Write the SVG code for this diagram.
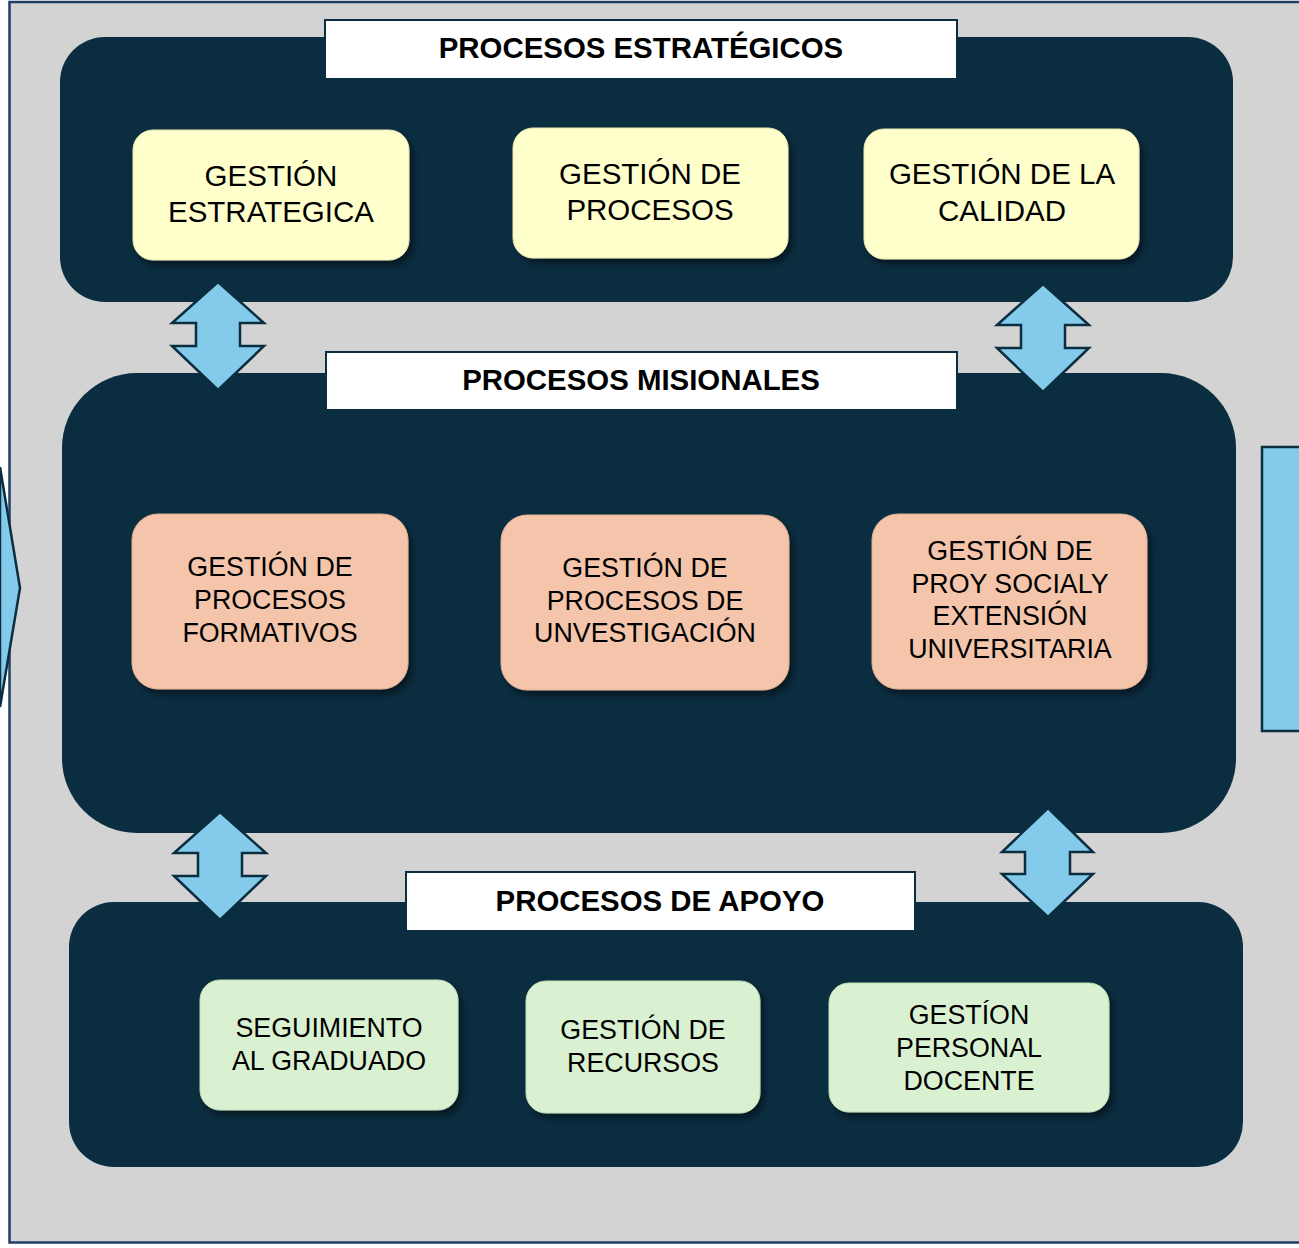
<svg xmlns="http://www.w3.org/2000/svg" width="1299" height="1248" viewBox="0 0 1299 1248">
<defs>
<style>
.panel{fill:#0B2D40;}
.title{fill:#FFFFFF;stroke:#0B2D40;stroke-width:2;}
.tt{font-family:"Liberation Sans",Arial,sans-serif;font-weight:bold;font-size:29.4px;fill:#000;text-anchor:middle;}
.nt{font-family:"Liberation Sans",Arial,sans-serif;font-size:26.8px;fill:#000;text-anchor:middle;}
.nty{font-family:"Liberation Sans",Arial,sans-serif;font-size:29.5px;fill:#000;text-anchor:middle;}
.y{fill:#FFFFCC;stroke:#E8E8B0;stroke-width:1;}
.o{fill:#F4C5AA;stroke:#E0B090;stroke-width:1;}
.g{fill:#D9F1D1;stroke:#C0DDB8;stroke-width:1;}
.arr{fill:#84CBEB;stroke:#0B2D40;stroke-width:2.5;stroke-linejoin:miter;}
</style>
<filter id="sh" x="-10%" y="-10%" width="125%" height="130%">
<feDropShadow dx="4" dy="5" stdDeviation="3" flood-color="#000" flood-opacity="0.45"/>
</filter>
</defs>
<rect x="0" y="0" width="1299" height="1248" fill="#FFFFFF"/>
<rect x="9.5" y="2" width="1300" height="1240.5" fill="#D3D3D3" stroke="#1F3F66" stroke-width="2.5"/>
<path d="M0,467 L20,588 L0,707 Z" fill="#84CBEB" stroke="#0B2D40" stroke-width="2.5"/>
<rect x="1262" y="447" width="50" height="284" fill="#84CBEB" stroke="#0B2D40" stroke-width="2.5"/>

<g id="panel-estrategicos">
<rect class="panel" x="60" y="37" width="1173" height="265" rx="45"/>
<rect class="title" x="325" y="20" width="632" height="59"/>
<text class="tt" x="641" y="58">PROCESOS ESTRATÉGICOS</text>
</g>
<g id="panel-misionales">
<rect class="panel" x="62" y="373" width="1174" height="460" rx="75"/>
<rect class="title" x="326" y="352" width="631" height="58"/>
<text class="tt" x="641" y="390">PROCESOS MISIONALES</text>
</g>
<g id="panel-apoyo">
<rect class="panel" x="69" y="902" width="1174" height="265" rx="45"/>
<rect class="title" x="406" y="872" width="509" height="59"/>
<text class="tt" x="660" y="911">PROCESOS DE APOYO</text>
</g>

<g id="connectors">
<path class="arr" d="M218,282 L264,323 L240,323 L240,346 L264,346 L218,390 L172,346 L196,346 L196,323 L172,323 Z"/>
<path class="arr" d="M1043,284 L1089,325 L1065,325 L1065,348 L1089,348 L1043,392 L997,348 L1021,348 L1021,325 L997,325 Z"/>
<path class="arr" d="M220,812 L266,853 L242,853 L242,876 L266,876 L220,920 L174,876 L198,876 L198,853 L174,853 Z"/>
<path class="arr" d="M1048,808 L1093,852 L1070,852 L1070,874 L1093,874 L1048,917 L1002,874 L1025,874 L1025,852 L1002,852 Z"/>
</g>

<g id="n-gestion-estrategica">
<rect class="y" filter="url(#sh)" x="133" y="130" width="276" height="130" rx="20"/>
<text class="nty" x="271" y="186">GESTIÓN</text>
<text class="nty" x="271" y="222">ESTRATEGICA</text>
</g>
<g id="n-gestion-procesos">
<rect class="y" filter="url(#sh)" x="513" y="128" width="275" height="130" rx="20"/>
<text class="nty" x="650" y="184">GESTIÓN DE</text>
<text class="nty" x="650" y="220">PROCESOS</text>
</g>
<g id="n-gestion-calidad">
<rect class="y" filter="url(#sh)" x="864" y="129" width="275" height="130" rx="20"/>
<text class="nty" x="1002" y="184">GESTIÓN DE LA</text>
<text class="nty" x="1002" y="221">CALIDAD</text>
</g>

<g id="n-formativos">
<rect class="o" filter="url(#sh)" x="132" y="514" width="276" height="175" rx="26"/>
<text class="nt" x="270" y="576">GESTIÓN DE</text>
<text class="nt" x="270" y="609">PROCESOS</text>
<text class="nt" x="270" y="642">FORMATIVOS</text>
</g>
<g id="n-investigacion">
<rect class="o" filter="url(#sh)" x="501" y="515" width="288" height="175" rx="26"/>
<text class="nt" x="645" y="577">GESTIÓN DE</text>
<text class="nt" x="645" y="610">PROCESOS DE</text>
<text class="nt" x="645" y="642">UNVESTIGACIÓN</text>
</g>
<g id="n-proy-social">
<rect class="o" filter="url(#sh)" x="872" y="514" width="275" height="175" rx="26"/>
<text class="nt" x="1010" y="560">GESTIÓN DE</text>
<text class="nt" x="1010" y="593">PROY SOCIALY</text>
<text class="nt" x="1010" y="625">EXTENSIÓN</text>
<text class="nt" x="1010" y="658">UNIVERSITARIA</text>
</g>

<g id="n-seguimiento">
<rect class="g" filter="url(#sh)" x="200" y="980" width="258" height="130" rx="20"/>
<text class="nt" x="329" y="1037">SEGUIMIENTO</text>
<text class="nt" x="329" y="1070">AL GRADUADO</text>
</g>
<g id="n-recursos">
<rect class="g" filter="url(#sh)" x="526" y="981" width="234" height="132" rx="20"/>
<text class="nt" x="643" y="1039">GESTIÓN DE</text>
<text class="nt" x="643" y="1072">RECURSOS</text>
</g>
<g id="n-personal">
<rect class="g" filter="url(#sh)" x="829" y="983" width="280" height="129" rx="20"/>
<text class="nt" x="969" y="1024">GESTÍON</text>
<text class="nt" x="969" y="1057">PERSONAL</text>
<text class="nt" x="969" y="1090">DOCENTE</text>
</g>
</svg>
